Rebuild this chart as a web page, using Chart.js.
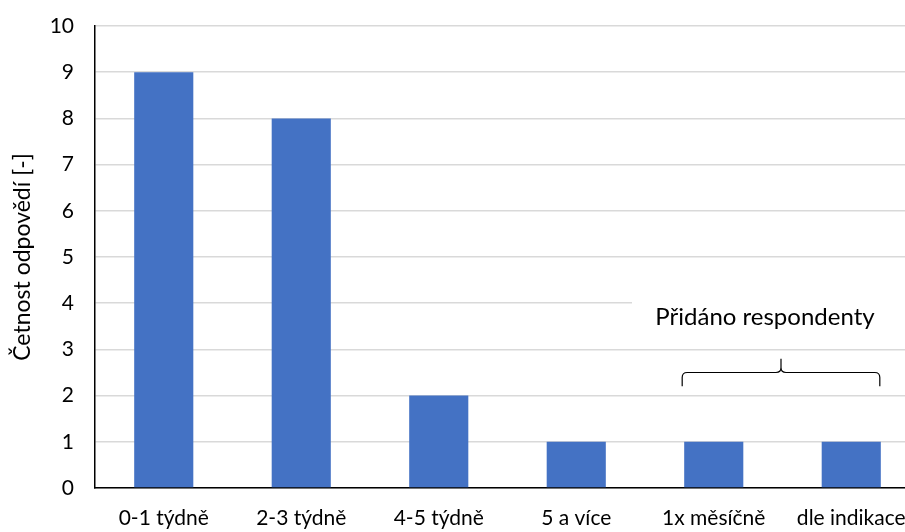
<!DOCTYPE html>
<html>
<head>
<meta charset="utf-8">
<script src="https://cdn.jsdelivr.net/npm/chart.js@4/dist/chart.umd.min.js"></script>
<style>
  html, body { margin: 0; padding: 0; background: #fff; overflow: hidden; }
  #wrap { width: 920px; height: 532px; position: relative; }
</style>
</head>
<body>
<div id="wrap"><canvas id="c"></canvas></div>
<script>
// Frequency of answers per category
const categories = ['0-1 týdně', '2-3 týdně', '4-5 týdně', '5 a více', '1x měsíčně', 'dle indikace'];
const counts = [9, 8, 2, 1, 1, 1];
const yTicks = [0, 1, 2, 3, 4, 5, 6, 7, 8, 9, 10];
const noteText = 'Přidáno respondenty';
const noteRange = [4, 5];          // categories added by respondents

const FONT = 'Lato, "Open Sans", sans-serif';

// Curly brace and caption above the respondent-added categories
const bracePlugin = {
  id: 'brace',
  afterDatasetsDraw(chart) {
    const ctx = chart.ctx;
    const y = chart.scales.y;
    const meta = chart.getDatasetMeta(0);
    const b0 = meta.data[noteRange[0]], b1 = meta.data[noteRange[1]];
    const left = b0.x - b0.width / 2 - 2;
    const right = b1.x + b1.width / 2 - 1;
    const mid = (left + right) / 2;
    const yLine = y.getPixelForValue(2.5);
    const yEnd = y.getPixelForValue(2.2);
    const yTip = y.getPixelForValue(2.8);
    const r = 5;
    ctx.save();
    // white box behind caption hides the grid line
    const tY = y.getPixelForValue(3.7);
    ctx.fillStyle = '#fff';
    ctx.fillRect(mid - 149, y.getPixelForValue(4.25), 320, y.getPixelForValue(3.25) - y.getPixelForValue(4.25));
    ctx.fillStyle = '#000';
    ctx.font = '24px ' + FONT;
    ctx.textAlign = 'center';
    ctx.textBaseline = 'middle';
    ctx.fillText(noteText, mid - 16, tY);

    ctx.strokeStyle = '#000';
    ctx.lineWidth = 1.2;
    ctx.beginPath();
    ctx.moveTo(left, yEnd);
    ctx.lineTo(left, yLine + r);
    ctx.quadraticCurveTo(left, yLine, left + r, yLine);
    ctx.lineTo(mid - r, yLine);
    ctx.quadraticCurveTo(mid, yLine, mid, yLine - r);
    ctx.lineTo(mid, yTip);
    ctx.moveTo(mid, yLine - r);
    ctx.quadraticCurveTo(mid, yLine, mid + r, yLine);
    ctx.lineTo(right - r, yLine);
    ctx.quadraticCurveTo(right, yLine, right, yLine + r);
    ctx.lineTo(right, yEnd);
    ctx.stroke();
    ctx.restore();
  }
};

new Chart(document.getElementById('c'), {
  type: 'bar',
  data: {
    labels: categories,
    datasets: [{
      data: counts,
      backgroundColor: '#4472C4',
      borderWidth: 0,
      barPercentage: 1,
      categoryPercentage: 0.43
    }]
  },
  options: {
    responsive: true,
    maintainAspectRatio: false,
    animation: false,
    layout: { padding: { top: 26, right: 0, bottom: 0, left: 0 } },
    plugins: { legend: { display: false }, tooltip: { enabled: false } },
    scales: {
      x: {
        grid: { display: false, drawTicks: false },
        border: { display: true, color: '#000', width: 1.5 },
        ticks: { color: '#000', font: { family: FONT, size: 21 }, padding: 18, maxRotation: 0, autoSkip: false },
        afterFit(s) { s.height = 44; s.paddingLeft = 0; s.paddingRight = 0; }
      },
      y: {
        min: 0, max: 10,
        afterBuildTicks(s) { s.ticks = yTicks.map(v => ({ value: v })); },
        grid: { color: '#d9d9d9', lineWidth: 1.5, drawTicks: false },
        border: { display: true, color: '#000', width: 1.5 },
        ticks: { color: '#000', font: { family: FONT, size: 21 }, padding: 21 },
        title: { display: true, text: 'Četnost odpovědí [-]', color: '#000', font: { family: FONT, size: 23 }, padding: { top: 9, bottom: 0 } },
        afterFit(s) { s.width = 95; s.paddingTop = 0; s.paddingBottom = 0; }
      }
    }
  },
  plugins: [bracePlugin]
});
</script>
</body>
</html>
